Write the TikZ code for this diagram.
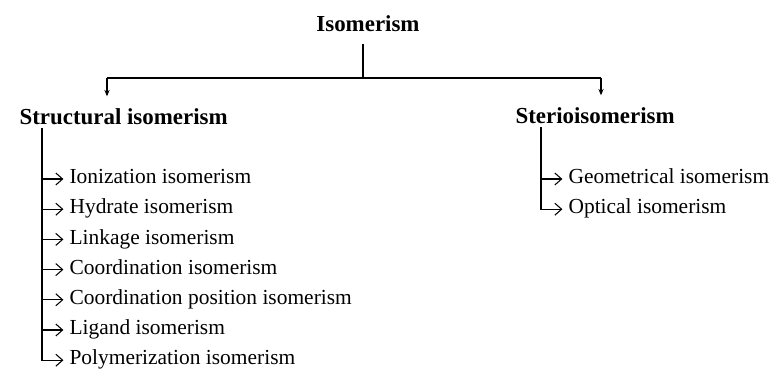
\documentclass[tikz,border=0pt]{standalone}
\usepackage{fontspec}
\setmainfont{Liberation Serif}
\usetikzlibrary{arrows.meta,positioning}

\begin{document}
\begin{tikzpicture}[>=Stealth,line width=0.8pt,
   head/.style={font=\fontsize{16.3}{19}\selectfont\bfseries,inner sep=0pt,anchor=base},
   kind/.style={font=\fontsize{16.3}{19}\selectfont\bfseries,inner sep=0pt,anchor=base west},
   item/.style={font=\fontsize{15.25}{18}\selectfont,inner sep=0pt,anchor=west,text height=1.45ex,text depth=0pt},
   drop/.style={-{Stealth[length=1.6mm,width=1.3mm]},shorten >=2.8mm},
   link/.style={line width=0.75pt,-{Straight Barb[length=1.7mm,width=3mm]},shorten >=1.4mm}]
  \useasboundingbox (0,0) rectangle (19.475,9.425);

  % ---- top level ----
  \node[head] (iso) at (9.2,8.65) {Isomerism};
  \coordinate (top)   at (9.075,8.325);
  \coordinate (split) at (9.075,7.475);
  \coordinate (lbr)   at (2.675,7.475);
  \coordinate (rbr)   at (15.025,7.475);

  % ---- two kinds ----
  \node[kind] (struct) at (0.475,6.325) {Structural isomerism};
  \node[kind] (stereo) at (12.875,6.35) {Sterioisomerism};
  \draw (top) -- (split);
  \draw (lbr) -- (rbr);
  \draw[drop] (lbr) -- (lbr |- struct.north);
  \draw[drop] (rbr) -- (rbr |- stereo.north);

  % ---- structural list ----
  \coordinate (ltr) at (1.05,6.225);
  \foreach \t [count=\i from 0] in {Ionization isomerism,Hydrate isomerism,Linkage isomerism,
      Coordination isomerism,Coordination position isomerism,Ligand isomerism,Polymerization isomerism}{
    \node[item] (s\i) at (1.725,{4.95-0.755*\i}) {\t};
    \draw[link] (ltr) |- (s\i.west);
  }

  % ---- stereo list ----
  \coordinate (rtr) at (13.525,6.25);
  \foreach \t [count=\i from 0] in {Geometrical isomerism,Optical isomerism}{
    \node[item] (g\i) at (14.2,{4.95-0.755*\i}) {\t};
    \draw[link] (rtr) |- (g\i.west);
  }
\end{tikzpicture}
\end{document}
